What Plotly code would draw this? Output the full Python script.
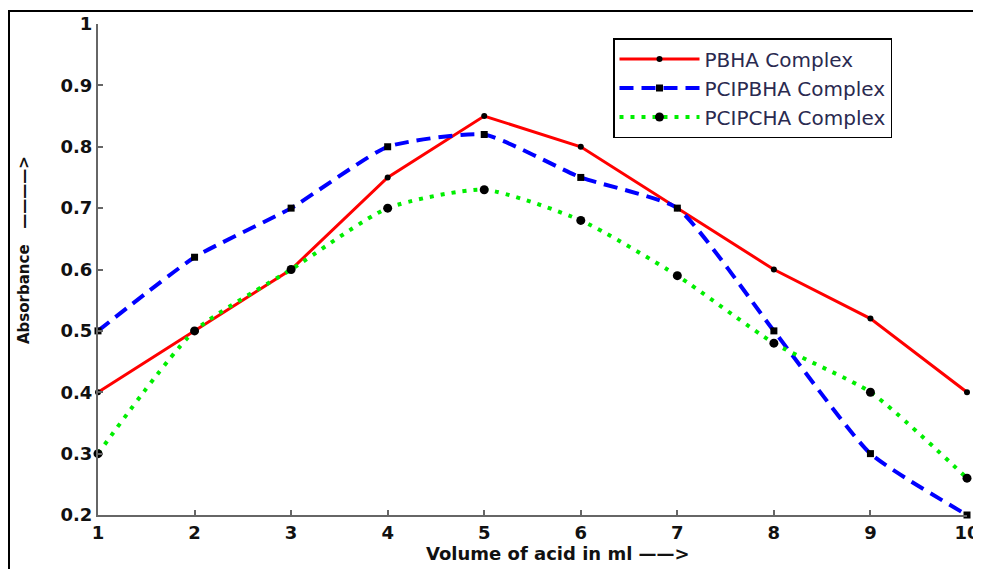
import plotly.graph_objects as go

volume = [1, 2, 3, 4, 5, 6, 7, 8, 9, 10]
pbha = [0.40, 0.50, 0.60, 0.75, 0.85, 0.80, 0.70, 0.60, 0.52, 0.40]
pcipbha = [0.50, 0.62, 0.70, 0.80, 0.82, 0.75, 0.70, 0.50, 0.30, 0.20]
pcipcha = [0.30, 0.50, 0.60, 0.70, 0.73, 0.68, 0.59, 0.48, 0.40, 0.26]
y_ticks = [0.2, 0.3, 0.4, 0.5, 0.6, 0.7, 0.8, 0.9, 1]

# The page body has an 8px default margin; compensate so the figure
# lands where the reference has it inside the 981x569 window.
OFF = 8
W, H = 981 - OFF, 569 - OFF
# plot area in window pixels: x 98..967, y 24..515
ML, MT = 98 - OFF, 24 - OFF
pw, ph = 869, 491
MR = W - ML - pw
MB = H - MT - ph

def px(xv):
    return (xv - OFF - ML) / pw

def py(yv):
    return (MT + ph - (yv - OFF)) / ph

fig = go.Figure()
fig.add_trace(go.Scatter(
    x=volume, y=pbha, name="PBHA Complex", mode="lines+markers",
    line=dict(color="#ff0000", width=3),
    marker=dict(symbol="circle", size=6, color="black"),
    cliponaxis=False))
fig.add_trace(go.Scatter(
    x=volume, y=pcipbha, name="PCIPBHA Complex", mode="lines+markers",
    line=dict(color="#0000ff", width=4, dash="14px,8px", shape="spline", smoothing=0.5),
    marker=dict(symbol="square", size=7, color="black"),
    cliponaxis=False))
fig.add_trace(go.Scatter(
    x=volume, y=pcipcha, name="PCIPCHA Complex", mode="lines+markers",
    line=dict(color="#00ee00", width=4, dash="4px,7px", shape="spline", smoothing=0.6),
    marker=dict(symbol="circle", size=9, color="black"),
    cliponaxis=False))

tickfont = dict(family="DejaVu Sans", size=18, color="#111111", weight="bold")

fig.update_layout(
    width=W, height=H,
    margin=dict(l=ML, r=MR, t=MT, b=MB, autoexpand=False),
    paper_bgcolor="white", plot_bgcolor="white",
    showlegend=True,
    legend=dict(
        x=px(613), y=py(38), xanchor="left", yanchor="top",
        bgcolor="white", bordercolor="black", borderwidth=1.5,
        font=dict(family="DejaVu Sans", size=20, color="#2a2a50"),
        itemwidth=80, tracegroupgap=0,
    ),
    xaxis=dict(
        range=[1, 10], tickvals=volume, showgrid=False, zeroline=False,
        showline=True, linecolor="#666666", linewidth=2, automargin=False,
        ticks="inside", ticklen=5, tickcolor="#666666", tickwidth=1.5,
        tickfont=tickfont, ticklabeloverflow="allow",
    ),
    yaxis=dict(
        range=[0.2, 1], tickvals=y_ticks, showgrid=False, zeroline=False,
        showline=True, linecolor="#666666", linewidth=2, automargin=False,
        ticks="inside", ticklen=5, tickcolor="#666666", tickwidth=1.5,
        tickfont=tickfont, ticklabeloverflow="allow",
    ),
    shapes=[dict(
        type="rect", xref="paper", yref="paper",
        x0=px(9), x1=px(1000), y0=py(600), y1=py(11),
        line=dict(color="black", width=2), fillcolor="rgba(0,0,0,0)",
        layer="below")],
    annotations=[
        dict(text="Volume of acid in ml \u2014\u2014>", xref="paper", yref="paper",
             x=px(558), y=py(553), xanchor="center", yanchor="middle",
             showarrow=False,
             font=dict(family="DejaVu Sans", size=18, color="#111111", weight="bold")),
        dict(text="Absorbance   \u2014\u2014\u2014\u2014>", xref="paper", yref="paper",
             x=px(24), y=py(250), xanchor="center", yanchor="middle",
             textangle=-90, showarrow=False,
             font=dict(family="DejaVu Sans", size=15, color="#111111", weight="bold")),
    ],
)

fig.write_html("out.html")
